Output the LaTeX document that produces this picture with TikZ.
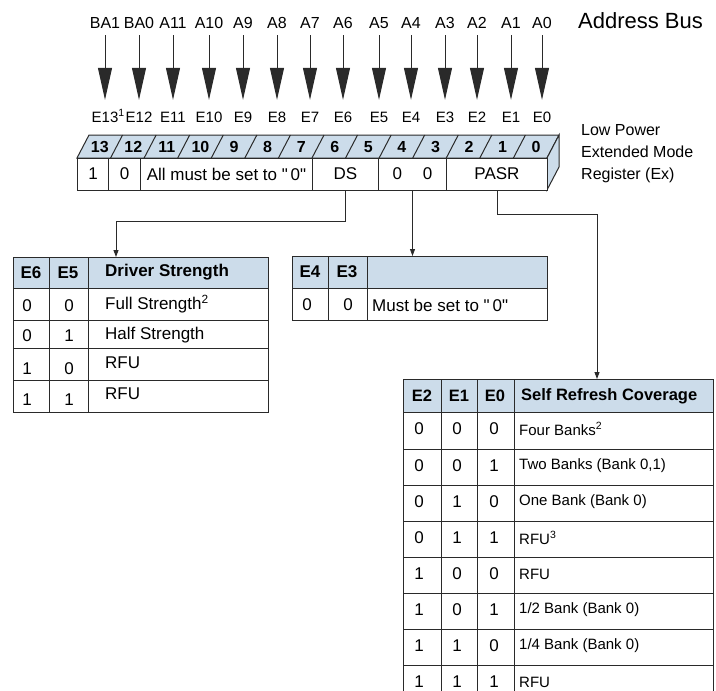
\documentclass[tikz,border=0pt]{standalone}
\usepackage{fontspec}
\setmainfont{Liberation Sans}
\usetikzlibrary{arrows.meta}
\definecolor{regblue}{HTML}{CCDCEA}
\definecolor{lin}{HTML}{2A2A2A}
\begin{document}
\begin{tikzpicture}[x=1pt,y=-1pt,
  addr/.style={inner sep=0pt,anchor=base,font=\fontsize{16}{19}\selectfont,text height=12pt,text depth=0pt},
  elab/.style={inner sep=0pt,anchor=base,font=\fontsize{15}{18}\selectfont,text height=11pt,text depth=0pt},
  bigarrow/.style={line width=1pt,draw=lin,-{Triangle[length=32pt,width=14pt]}},
  bitn/.style={inner sep=0pt,font=\fontsize{16}{19}\selectfont\bfseries},
  fcell/.style={draw=lin,line width=1pt,fill=white,inner sep=0pt,minimum height=32pt,anchor=west,font=\fontsize{17}{20}\selectfont},
  conn/.style={line width=0.9pt,draw=lin,-{Triangle[length=7pt,width=5pt]}},
  tline/.style={line width=1pt,draw=lin},
  hfill/.style={fill=regblue},
  ttxt/.style={inner sep=0pt,font=\fontsize{17}{20}\selectfont},
  thead/.style={inner sep=0pt,font=\fontsize{17}{20}\selectfont\bfseries},
  rtxt/.style={inner sep=0pt,font=\fontsize{15}{18}\selectfont},
  rhead/.style={inner sep=0pt,font=\fontsize{16.5}{19}\selectfont\bfseries},
  tabbox/.style={inner sep=0pt,anchor=north west}]
\useasboundingbox (0,0) rectangle (716,691);

% address bus arrows
\foreach \x/\a/\e/\i in {105/BA1/{E13\rlap{\textsuperscript{1}}}/13,139/BA0/E12/12,173/A11/E11/11,209/A10/E10/10,
  243/A9/E9/9,277/A8/E8/8,310/A7/E7/7,343/A6/E6/6,379/A5/E5/5,411/A4/E4/4,445/A3/E3/3,477/A2/E2/2,511/A1/E1/1,542/A0/E0/0}{
  \node[addr] (a\i) at (\x,28) {\a};
  \node[elab] (e\i) at (\x,122) {\e};
  \draw[bigarrow] ([yshift=-7pt]a\i.south) -- ([yshift=11pt]e\i.north);
}
\node[inner sep=0pt,anchor=base west,font=\fontsize{22}{26}\selectfont] (abus) at (578,28) {Address Bus};

% register top and right faces
\draw[tline,fill=regblue] (77,158) -- (89,135) -- (559,135) -- (547,158) -- cycle;
\draw[tline,fill=regblue] (547,158) -- (559,135) -- (559,167) -- (547,190) -- cycle;
\foreach \k in {1,...,13}{
  \draw[tline] ({77+\k*33.57},158) -- ++(12,-23);
}
\foreach \b in {0,...,13}{
  \node[bitn] (bit\b) at ({77+(13-\b+0.5)*33.57+6},147) {\b};
}
% register front cells
\node[fcell,minimum width=31pt] (c13) at (77,174) {1};
\node[fcell,minimum width=32pt] (c12) at (108,174) {0};
\node[fcell,minimum width=172pt] (c11) at (140,174) {All must be set to \textquotedbl\,0\textquotedbl};
\node[fcell,minimum width=66pt] (ds) at (312,174) {DS};
\node[fcell,minimum width=68pt] (zz) at (378,174) {0\hspace{21pt}0};
\node[fcell,minimum width=101pt] (pasr) at (446,174) {PASR};

\node[inner sep=0pt,anchor=north west,align=left,font=\fontsize{16}{22}\selectfont] (lpem) at (581,124)
  {Low Power\\Extended Mode\\Register (Ex)};

% left table: Driver Strength
\node[tabbox,minimum width=255pt,minimum height=155pt] (ltab) at (13,257) {};
\fill[hfill] (13,257) rectangle (268,288);
\draw[tline] (13,257) rectangle (268,412);
\foreach \y in {288,320,348,380}{\draw[tline] (13,\y) -- (268,\y);}
\foreach \x in {49,88}{\draw[tline] (\x,257) -- (\x,412);}
\node[thead] (lh1) at (31,273) {E6};
\node[thead] (lh2) at (68,273) {E5};
\node[thead,anchor=west] (lh3) at (105,272) {Driver Strength};
\node[ttxt] (l11) at (27,306) {0};
\node[ttxt] (l12) at (69,306) {0};
\node[ttxt,anchor=west] (l13) at (105,304) {Full Strength\textsuperscript{2}};
\node[ttxt] (l21) at (27,336) {0};
\node[ttxt] (l22) at (69,336) {1};
\node[ttxt,anchor=west] (l23) at (105,335) {Half Strength};
\node[ttxt] (l31) at (27,369) {1};
\node[ttxt] (l32) at (69,369) {0};
\node[ttxt,anchor=west] (l33) at (105,363) {RFU};
\node[ttxt] (l41) at (27,400) {1};
\node[ttxt] (l42) at (69,400) {1};
\node[ttxt,anchor=west] (l43) at (105,394) {RFU};

% middle table
\node[tabbox,minimum width=255pt,minimum height=64pt] (mtab) at (292,256) {};
\fill[hfill] (292,256) rectangle (547,288);
\draw[tline] (292,256) rectangle (547,320);
\draw[tline] (292,288) -- (547,288);
\foreach \x in {328,367}{\draw[tline] (\x,256) -- (\x,320);}
\node[thead] (mh1) at (310,272) {E4};
\node[thead] (mh2) at (347,272) {E3};
\node[ttxt] (m11) at (307,305) {0};
\node[ttxt] (m12) at (348,305) {0};
\node[ttxt,anchor=west] (m13) at (372,305) {Must be set to \textquotedbl\,0\textquotedbl};

% right table: Self Refresh Coverage
\node[tabbox,minimum width=310pt,minimum height=312pt] (rtab) at (403,379) {};
\fill[hfill] (403,379) rectangle (713,412);
\foreach \y in {379,412,449,485,521,557,593,629,665}{\draw[tline] (403,\y) -- (713,\y);}
\foreach \x in {403,441,477,514,713}{\draw[tline] (\x,379) -- (\x,691);}
\node[rhead] (rh1) at (422,396) {E2};
\node[rhead] (rh2) at (459,396) {E1};
\node[rhead] (rh3) at (495,396) {E0};
\node[rhead,anchor=west] (rh4) at (521,396) {Self Refresh Coverage};
\foreach \r/\yc/\p/\q/\s/\t in {1/429/0/0/0/{Four Banks\textsuperscript{2}},2/466/0/0/1/{Two Banks (Bank 0,1)},
  3/502/0/1/0/{One Bank (Bank 0)},4/538/0/1/1/{RFU\textsuperscript{3}},5/574/1/0/0/{RFU},
  6/610/1/0/1/{1/2 Bank (Bank 0)},7/646/1/1/0/{1/4 Bank (Bank 0)},8/682/1/1/1/{RFU}}{
  \node[ttxt] (r\r a) at (419,\yc) {\p};
  \node[ttxt] (r\r b) at (457,\yc) {\q};
  \node[ttxt] (r\r c) at (494,\yc) {\s};
  \node[rtxt,anchor=west] (r\r d) at (519,\yc) {\t};
}

% connectors
\draw[conn] (ds.south) -- ++(0,31) -| ([xshift=103pt]ltab.north west);
\draw[conn] (zz.south) -- (zz.south |- mtab.north);
\draw[conn] (pasr.south) -- ++(0,24) -| ([xshift=194pt]rtab.north west);
\end{tikzpicture}
\end{document}
